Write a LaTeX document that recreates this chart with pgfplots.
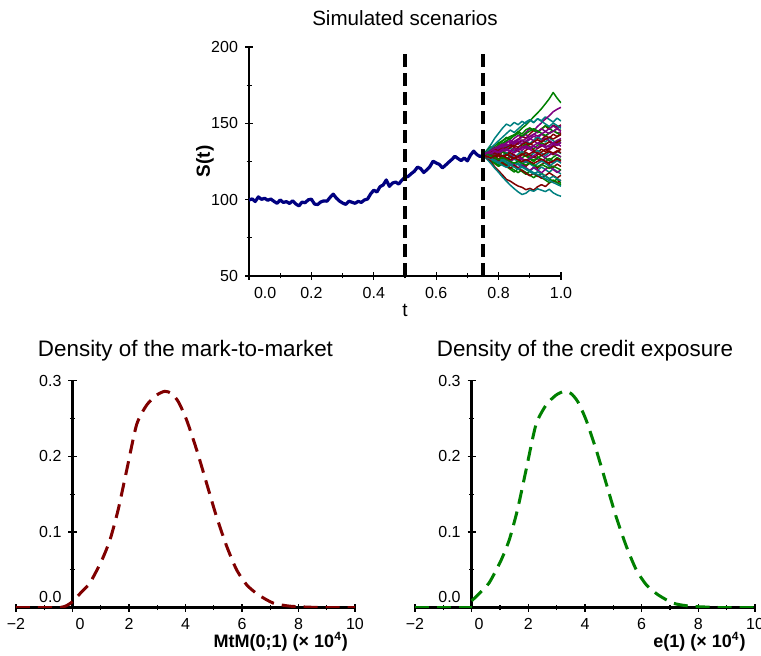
\documentclass[border=0pt]{standalone}
\usepackage{fontspec}
\setmainfont{Liberation Sans}
\usepackage{pgfplots}
\pgfplotsset{compat=1.18}
\definecolor{cnavy}{RGB}{0,0,128}
\definecolor{cmaroon}{RGB}{128,0,0}
\definecolor{cgreen}{RGB}{0,128,0}
\definecolor{cpurple}{RGB}{128,0,128}
\definecolor{cteal}{RGB}{0,128,128}
\pgfplotsset{
  common/.style={
    scale only axis, anchor=south west,
    axis line style={line width=1.2pt,-},
    tick style={line width=0.6pt,black},
    major tick length=4pt, minor tick length=2.5pt, tick align=center,
    /pgf/number format/assume math mode=true,
    ticklabel style={font=\fontsize{8}{9}\selectfont},
    every axis title/.style={anchor=center,font=\fontsize{11.2}{13}\selectfont},
  },
  onedec/.style={/pgf/number format/fixed, /pgf/number format/fixed zerofill, /pgf/number format/precision=1},
  sg/.style={cgreen, line width=0.75pt, line join=round},
  sp/.style={cpurple, line width=0.75pt, line join=round},
  sm/.style={cmaroon, line width=0.75pt, line join=round},
  st/.style={cteal, line width=0.75pt, line join=round},
}
\begin{document}
\begin{tikzpicture}
\path[use as bounding box] (0,0) rectangle (380.5pt,328pt);
% ---------------- top ----------------
\begin{axis}[common,
  at={(124.5pt,190pt)}, width=156pt, height=114.5pt,
  xmin=0, xmax=1, ymin=50, ymax=200,
  axis x line*=bottom, axis y line*=left,
  xtick={0.2,0.4,0.6,0.8,1.0}, minor xtick={0.1,0.3,0.5,0.7,0.9},
  xticklabel style={onedec},
  extra x ticks={0}, extra x tick labels={0.0},
  extra x tick style={xticklabel style={anchor=north west, xshift=-1pt}},
  ytick={50,100,150,200}, minor ytick={75,125,175},
  title={Simulated scenarios},
  title style={at={(axis description cs:0.5,1.1266)}, font=\fontsize{10.3}{12}\selectfont},
  xlabel={t}, ylabel={\textbf{S(t)}},
  every axis x label/.style={at={(axis description cs:0.5,-0.1485)}, anchor=center, font=\fontsize{9.5}{11}\selectfont},
  every axis y label/.style={at={(axis description cs:-0.141,0.5)}, rotate=90, anchor=center, font=\fontsize{9.5}{11}\selectfont},
]
\addplot[cnavy, line width=1.6pt, line join=round] coordinates {
(0,99.7)(0.01,100.5)(0.02,98.8)(0.03,101.8)(0.04,100.2)(0.05,100.9)(0.06,99.6)(0.07,100.4)(0.08,98.9)(0.09,97.6)
(0.10,99.8)(0.11,98.2)(0.12,98.7)(0.13,97.5)(0.14,99.3)(0.15,97.2)(0.16,95.9)(0.17,98.4)(0.18,98.0)(0.19,99.9)
(0.20,100.3)(0.21,97.1)(0.22,96.8)(0.23,98.5)(0.24,99.2)(0.25,99.0)(0.26,101.5)(0.27,103.6)(0.28,101.0)(0.29,99.1)
(0.30,97.8)(0.31,96.9)(0.32,99.0)(0.33,98.3)(0.34,97.6)(0.35,98.9)(0.36,98.2)(0.37,99.8)(0.38,100.4)(0.39,103.8)
(0.40,106.2)(0.41,105.0)(0.42,108.5)(0.43,109.6)(0.44,112.9)(0.45,108.7)(0.46,110.9)(0.47,111.5)(0.48,110.2)(0.49,112.8)
(0.50,114.6)(0.51,115.2)(0.52,117.0)(0.53,118.6)(0.54,121.3)(0.55,120.4)(0.56,117.8)(0.57,119.5)(0.58,121.7)(0.59,125.2)
(0.60,124.0)(0.61,123.1)(0.62,120.8)(0.63,122.6)(0.64,124.5)(0.65,126.3)(0.66,128.4)(0.67,126.9)(0.68,125.6)(0.69,127.3)
(0.70,125.4)(0.71,129.2)(0.72,131.8)(0.73,129.6)(0.74,128.3)(0.75,129.0)};
% scenarios
\addplot[sg] coordinates {(.75,129)(.7625,131)(.775,133.5)(.7875,135)(.8,137.2)(.8125,138.6)(.825,140.1)(.8375,141.4)(.85,142.5)(.8625,144.2)(.875,146.8)(.8875,148.9)(.9,151.5)(.9125,154.3)(.925,156.8)(.9375,159.6)(.95,162.8)(.9625,166.1)(.975,170.2)(.9875,166.5)(1,163.4)};
\addplot[st] coordinates {(.75,129)(.7625,132.5)(.775,136)(.7875,140.2)(.8,143.5)(.8125,146.8)(.825,149.5)(.8375,148.2)(.85,150.6)(.8625,149.1)(.875,151.3)(.8875,149.8)(.9,152.1)(.9125,150.4)(.925,153)(.9375,151.7)(.95,154.2)(.9625,152.5)(.975,150.8)(.9875,153.4)(1,151.5)};
\addplot[sp] coordinates {(.75,129)(.7625,130.2)(.775,132.5)(.7875,131.8)(.8,134.6)(.8125,136)(.825,138.4)(.8375,137.5)(.85,140.2)(.8625,142)(.875,141.3)(.8875,144)(.9,146.5)(.9125,145.2)(.925,148)(.9375,150.3)(.95,152.8)(.9625,155)(.975,157.6)(.9875,159.2)(1,160.5)};
\addplot[sm] coordinates {(.75,129)(.7625,127.5)(.775,130.4)(.7875,132.6)(.8,131.2)(.8125,134)(.825,136.5)(.8375,135.2)(.85,137.8)(.8625,139.6)(.875,141.5)(.8875,140.2)(.9,143)(.9125,145.4)(.925,144)(.9375,146.5)(.95,148.2)(.9625,146)(.975,148.8)(.9875,147.5)(1,149)};
\addplot[sg] coordinates {(.75,129)(.7625,132)(.775,134.6)(.7875,133)(.8,136.2)(.8125,138.5)(.825,140.8)(.8375,139.6)(.85,142.3)(.8625,144.6)(.875,143)(.8875,145.8)(.9,147)(.9125,145.5)(.925,143.8)(.9375,146.2)(.95,148.5)(.9625,147)(.975,144.6)(.9875,146.8)(1,145.2)};
\addplot[sp] coordinates {(.75,129)(.7625,128.2)(.775,130.5)(.7875,129.4)(.8,132)(.8125,134.3)(.825,133.1)(.8375,135.6)(.85,137.5)(.8625,136.2)(.875,138.8)(.8875,137.4)(.9,139.5)(.9125,141.6)(.925,140.3)(.9375,142.8)(.95,141.5)(.9625,143.7)(.975,145.2)(.9875,143.6)(1,144.4)};
\addplot[sm] coordinates {(.75,129)(.7625,130.6)(.775,129.2)(.7875,131.8)(.8,133.5)(.8125,132.1)(.825,134.6)(.8375,136.2)(.85,135)(.8625,137.3)(.875,139.1)(.8875,137.6)(.9,135.9)(.9125,138.4)(.925,140.6)(.9375,139.2)(.95,141.8)(.9625,140.4)(.975,142.9)(.9875,141.3)(1,143.5)};
\addplot[st] coordinates {(.75,129)(.7625,127.8)(.775,129.5)(.7875,131.6)(.8,130.2)(.8125,132.9)(.825,135.1)(.8375,133.6)(.85,131.8)(.8625,134.3)(.875,136.5)(.8875,138.2)(.9,136.7)(.9125,139)(.925,141.2)(.9375,139.4)(.95,137.8)(.9625,140.3)(.975,138.6)(.9875,136.9)(1,139.1)};
\addplot[sg] coordinates {(.75,129)(.7625,130.4)(.775,128.7)(.7875,130.9)(.8,129.3)(.8125,131.7)(.825,133.2)(.8375,131.5)(.85,133.9)(.8625,132.2)(.875,134.8)(.8875,136.4)(.9,134.7)(.9125,133.1)(.925,135.6)(.9375,137.3)(.95,135.9)(.9625,138.2)(.975,136.5)(.9875,138.9)(1,137.2)};
\addplot[sp] coordinates {(.75,129)(.7625,127.6)(.775,129.8)(.7875,128.1)(.8,130.5)(.8125,132.3)(.825,130.7)(.8375,129.1)(.85,131.4)(.8625,133.8)(.875,132.2)(.8875,134.5)(.9,133)(.9125,131.2)(.925,133.6)(.9375,135.8)(.95,134.1)(.9625,132.5)(.975,134.9)(.9875,136.6)(1,135)};
\addplot[sm] coordinates {(.75,129)(.7625,130.8)(.775,132.4)(.7875,130.6)(.8,129)(.8125,131.3)(.825,129.6)(.8375,131.9)(.85,133.6)(.8625,131.8)(.875,130.1)(.8875,132.4)(.9,134.2)(.9125,132.5)(.925,130.8)(.9375,133.1)(.95,131.4)(.9625,133.7)(.975,135.4)(.9875,133.6)(1,132.8)};
\addplot[st] coordinates {(.75,129)(.7625,128.1)(.775,126.7)(.7875,128.5)(.8,130.3)(.8125,128.6)(.825,130.9)(.8375,129.2)(.85,127.5)(.8625,129.8)(.875,131.6)(.8875,129.9)(.9,128.3)(.9125,130.5)(.925,132.2)(.9375,130.6)(.95,128.9)(.9625,131.1)(.975,129.4)(.9875,131.7)(1,130.2)};
\addplot[sg] coordinates {(.75,129)(.7625,127.4)(.775,125.9)(.7875,127.6)(.8,126.1)(.8125,124.5)(.825,126.8)(.8375,128.5)(.85,126.9)(.8625,125.2)(.875,127.4)(.8875,129.1)(.9,127.5)(.9125,125.8)(.925,128.1)(.9375,126.4)(.95,124.7)(.9625,127)(.975,125.3)(.9875,127.6)(1,126.1)};
\addplot[sp] coordinates {(.75,129)(.7625,130.3)(.775,128.5)(.7875,126.8)(.8,128.9)(.8125,127.2)(.825,125.6)(.8375,127.7)(.85,129.4)(.8625,127.8)(.875,126.1)(.8875,124.4)(.9,126.6)(.9125,128.3)(.925,126.6)(.9375,124.9)(.95,127.2)(.9625,125.5)(.975,123.8)(.9875,125.9)(1,124.3)};
\addplot[sm] coordinates {(.75,129)(.7625,127.7)(.775,126.2)(.7875,124.6)(.8,126.5)(.8125,128.1)(.825,126.3)(.8375,124.7)(.85,123)(.8625,125.2)(.875,123.5)(.8875,121.8)(.9,124.1)(.9125,122.4)(.925,120.6)(.9375,122.9)(.95,124.6)(.9625,122.8)(.975,121.1)(.9875,123.3)(1,121.7)};
\addplot[st] coordinates {(.75,129)(.7625,130.1)(.775,128.4)(.7875,126.6)(.8,124.9)(.8125,126.8)(.825,125.1)(.8375,123.3)(.85,121.6)(.8625,123.8)(.875,122.1)(.8875,120.3)(.9,118.6)(.9125,120.9)(.925,119.2)(.9375,121.4)(.95,119.7)(.9625,117.9)(.975,120.2)(.9875,118.5)(1,116.8)};
\addplot[sg] coordinates {(.75,129)(.7625,127.2)(.775,125.3)(.7875,123.6)(.8,121.8)(.8125,123.5)(.825,121.7)(.8375,119.9)(.85,118.1)(.8625,120.2)(.875,118.4)(.8875,116.6)(.9,118.7)(.9125,116.9)(.925,115.1)(.9375,117.3)(.95,115.5)(.9625,113.7)(.975,111.9)(.9875,113.4)(1,110.6)};
\addplot[sp] coordinates {(.75,129)(.7625,128.4)(.775,126.5)(.7875,128.2)(.8,126.3)(.8125,124.4)(.825,122.6)(.8375,124.5)(.85,122.7)(.8625,120.8)(.875,122.9)(.8875,121)(.9,119.1)(.9125,121.3)(.925,119.4)(.9375,117.6)(.95,119.8)(.9625,121.6)(.975,119.7)(.9875,117.8)(1,119.5)};
\addplot[sm] coordinates {(.75,129)(.7625,127)(.775,124.8)(.7875,121.5)(.8,118.9)(.8125,116.2)(.825,113.3)(.8375,112.1)(.85,110.4)(.8625,108.9)(.875,108.1)(.8875,106.5)(.9,107.4)(.9125,106.2)(.925,108.5)(.9375,109.8)(.95,108.6)(.9625,110.9)(.975,112.4)(.9875,111.1)(1,112.8)};
\addplot[st] coordinates {(.75,129)(.7625,126.5)(.775,123.8)(.7875,120.6)(.8,117.9)(.8125,114.8)(.825,112.1)(.8375,109.5)(.85,107.2)(.8625,105.1)(.875,103.4)(.8875,104.2)(.9,106.3)(.9125,105.5)(.925,107.1)(.9375,106.2)(.95,105.3)(.9625,106.8)(.975,104.5)(.9875,103.1)(1,102.2)};
\addplot[sg] coordinates {(.75,129)(.7625,131.2)(.775,129.5)(.7875,127.8)(.8,129.6)(.8125,131.4)(.825,129.7)(.8375,128)(.85,126.2)(.8625,128.4)(.875,130.2)(.8875,128.5)(.9,126.7)(.9125,125)(.925,127.2)(.9375,129)(.95,127.3)(.9625,125.5)(.975,127.8)(.9875,129.5)(1,127.9)};
\addplot[sp] coordinates {(.75,129)(.7625,130.9)(.775,132.7)(.7875,134.5)(.8,132.8)(.8125,134.6)(.825,136.4)(.8375,134.7)(.85,136.5)(.8625,138.3)(.875,136.6)(.8875,138.4)(.9,140.2)(.9125,138.5)(.925,136.8)(.9375,138.6)(.95,140.4)(.9625,138.7)(.975,136.9)(.9875,138.7)(1,140.1)};
\addplot[sm] coordinates {(.75,129)(.7625,130.5)(.775,128.8)(.7875,127.1)(.8,128.9)(.8125,127.2)(.825,129)(.8375,130.8)(.85,129.1)(.8625,127.4)(.875,129.2)(.8875,131)(.9,129.3)(.9125,127.6)(.925,129.4)(.9375,131.2)(.95,133)(.9625,131.3)(.975,129.6)(.9875,131.4)(1,133.1)};
\addplot[st] coordinates {(.75,129)(.7625,128.3)(.775,126.6)(.7875,124.9)(.8,126.7)(.8125,124.8)(.825,123.1)(.8375,125)(.85,126.8)(.8625,125.1)(.875,123.4)(.8875,125.2)(.9,123.5)(.9125,121.8)(.925,123.6)(.9375,125.4)(.95,123.7)(.9625,122)(.975,123.8)(.9875,125.6)(1,123.9)};
\addplot[sg] coordinates {(.75,129)(.7625,127.9)(.775,126.1)(.7875,124.4)(.8,122.7)(.8125,124.5)(.825,122.8)(.8375,121.1)(.85,119.4)(.8625,117.7)(.875,119.5)(.8875,117.8)(.9,116.1)(.9125,114.4)(.925,116.2)(.9375,114.5)(.95,112.8)(.9625,111.1)(.975,112.9)(.9875,111.2)(1,109.5)};
\addplot[sp] coordinates {(.75,129)(.7625,130.7)(.775,132.5)(.7875,131.8)(.8,133.6)(.8125,135.4)(.825,137.2)(.8375,139)(.85,137.3)(.8625,139.1)(.875,140.9)(.8875,142.7)(.9,141)(.9125,142.8)(.925,144.6)(.9375,146.4)(.95,144.7)(.9625,146.5)(.975,148.3)(.9875,146.6)(1,148.4)};
\addplot[sm] coordinates {(.75,129)(.7625,127.3)(.775,125.6)(.7875,127.4)(.8,125.7)(.8125,124)(.825,122.3)(.8375,120.6)(.85,122.4)(.8625,120.7)(.875,119)(.8875,117.3)(.9,115.6)(.9125,117.4)(.925,115.7)(.9375,114)(.95,115.8)(.9625,117.6)(.975,115.9)(.9875,114.2)(1,116)};
\addplot[st] coordinates {(.75,129)(.7625,131.4)(.775,133.8)(.7875,136.2)(.8,138.6)(.8125,140.9)(.825,143.3)(.8375,145.6)(.85,144)(.8625,146.3)(.875,148.6)(.8875,150.9)(.9,152.4)(.9125,150.7)(.925,153)(.9375,151.3)(.95,149.6)(.9625,147.9)(.975,150.2)(.9875,148.5)(1,146.8)};
\addplot[sg] coordinates {(.75,129)(.7625,130.6)(.775,132.2)(.7875,133.8)(.8,135.4)(.8125,137)(.825,138.6)(.8375,140.2)(.85,141.8)(.8625,143.4)(.875,141.7)(.8875,143.3)(.9,144.9)(.9125,146.5)(.925,145)(.9375,143.5)(.95,142)(.9625,143.6)(.975,145.2)(.9875,143.7)(1,142.2)};
\addplot[sp] coordinates {(.75,129)(.7625,127.6)(.775,129.2)(.7875,127.8)(.8,126.4)(.8125,128)(.825,126.6)(.8375,125.2)(.85,126.8)(.8625,128.4)(.875,127)(.8875,125.6)(.9,127.2)(.9125,128.8)(.925,130.4)(.9375,129)(.95,127.6)(.9625,129.2)(.975,130.8)(.9875,129.4)(1,128)};
\addplot[sm] coordinates {(.75,129)(.7625,130.4)(.775,131.8)(.7875,133.2)(.8,131.6)(.8125,133)(.825,134.4)(.8375,135.8)(.85,134.2)(.8625,132.6)(.875,134)(.8875,135.4)(.9,136.8)(.9125,135.2)(.925,133.6)(.9375,135)(.95,136.4)(.9625,137.8)(.975,136.2)(.9875,137.6)(1,139)};
\addplot[st] coordinates {(.75,129)(.7625,127.7)(.775,126.4)(.7875,125.1)(.8,123.8)(.8125,122.5)(.825,121.2)(.8375,122.7)(.85,124.2)(.8625,122.9)(.875,121.6)(.8875,120.3)(.9,119)(.9125,117.7)(.925,116.4)(.9375,115.1)(.95,113.8)(.9625,112.5)(.975,111.2)(.9875,110)(1,108.8)};
\addplot[sm] coordinates {(.75,129)(.7625,130.2)(.775,131.5)(.7875,130.1)(.8,132.3)(.8125,133.7)(.825,132.4)(.8375,134.1)(.85,135.6)(.8625,134.2)(.875,136)(.8875,137.5)(.9,136.1)(.9125,137.9)(.925,139.2)(.9375,137.8)(.95,139.5)(.9625,141)(.975,139.7)(.9875,141.2)(1,142.6)};
\addplot[sp] coordinates {(.75,129)(.7625,128.6)(.775,130.1)(.7875,131.7)(.8,130.3)(.8125,131.9)(.825,133.4)(.8375,132)(.85,130.6)(.8625,132.2)(.875,133.8)(.8875,135.3)(.9,133.9)(.9125,135.5)(.925,137)(.9375,135.6)(.95,134.2)(.9625,135.8)(.975,137.3)(.9875,135.9)(1,137.5)};
\addplot[sm] coordinates {(.75,129)(.7625,127.9)(.775,129.3)(.7875,128)(.8,126.7)(.8125,128.2)(.825,129.6)(.8375,128.3)(.85,127)(.8625,128.5)(.875,129.9)(.8875,128.6)(.9,130.1)(.9125,131.5)(.925,130.2)(.9375,128.9)(.95,130.4)(.9625,131.8)(.975,130.5)(.9875,132)(1,130.7)};
\addplot[sg] coordinates {(.75,129)(.7625,130.1)(.775,128.8)(.7875,127.5)(.8,126.2)(.8125,127.7)(.825,126.4)(.8375,125.1)(.85,123.8)(.8625,125.3)(.875,124)(.8875,122.7)(.9,124.2)(.9125,122.9)(.925,121.6)(.9375,123.1)(.95,121.8)(.9625,120.5)(.975,122)(.9875,120.7)(1,119.4)};
\addplot[sp] coordinates {(.75,129)(.7625,130.5)(.775,132)(.7875,133.5)(.8,135)(.8125,136.5)(.825,135.2)(.8375,136.7)(.85,138.2)(.8625,139.7)(.875,138.4)(.8875,139.9)(.9,141.4)(.9125,142.9)(.925,141.6)(.9375,143.1)(.95,144.6)(.9625,143.3)(.975,144.8)(.9875,146.3)(1,145)};
\addplot[st] coordinates {(.75,129)(.7625,128.8)(.775,127.3)(.7875,125.8)(.8,124.3)(.8125,125.8)(.825,124.3)(.8375,122.8)(.85,121.3)(.8625,119.8)(.875,121.3)(.8875,119.8)(.9,118.3)(.9125,116.8)(.925,118.3)(.9375,116.8)(.95,115.3)(.9625,113.8)(.975,115.3)(.9875,113.8)(1,112.3)};
\addplot[sm] coordinates {(.75,129)(.7625,128.5)(.775,127.2)(.7875,128.6)(.8,130)(.8125,128.7)(.825,127.4)(.8375,126.1)(.85,127.5)(.8625,126.2)(.875,124.9)(.8875,126.3)(.9,125)(.9125,123.7)(.925,125.1)(.9375,126.5)(.95,125.2)(.9625,123.9)(.975,125.3)(.9875,126.7)(1,125.4)};
\addplot[sp] coordinates {(.75,129)(.7625,131)(.775,130.2)(.7875,132.1)(.8,131.3)(.8125,133.2)(.825,132.4)(.8375,131.6)(.85,133.5)(.8625,132.7)(.875,134.6)(.8875,133.8)(.9,133)(.9125,134.9)(.925,134.1)(.9375,136)(.95,135.2)(.9625,134.4)(.975,136.3)(.9875,135.5)(1,137.4)};
% vertical dashed lines
\addplot[black, line width=1.6pt, dash pattern=on 6.5pt off 3pt] coordinates {(0.5,50)(0.5,197)};
\addplot[black, line width=1.6pt, dash pattern=on 6.5pt off 3pt] coordinates {(0.75,50)(0.75,197)};
\end{axis}
% ---------------- bottom left ----------------
\begin{axis}[common,
  at={(8pt,24.15pt)}, width=169.5pt, height=113.5pt,
  xmin=-2, xmax=10, ymin=0, ymax=0.3,
  axis lines*=middle,
  hide obscured x ticks=false, hide obscured y ticks=false,
  xtick={-2,2,4,6,8,10}, xticklabels={−2,2,4,6,8,10}, minor xtick={-1,1,3,5,7,9},
  extra x ticks={0}, extra x tick labels={0},
  extra x tick style={xticklabel style={xshift=3.75pt}},
  ytick={0.1,0.2,0.3}, minor ytick={0.05,0.15,0.25},
  yticklabel style={onedec},
  extra y ticks={0}, extra y tick labels={0.0},
  extra y tick style={yticklabel style={yshift=5.3pt}},
  title={Density of the mark-to-market},
  title style={at={(axis description cs:0.5,1.1308)}},
  xlabel={\textbf{MtM(0;1) (× 10\textsuperscript{4})}},
  every axis x label/.style={at={(axis description cs:1,-0.1498)}, anchor=east, font=\fontsize{9}{11}\selectfont},
]
\addplot[cmaroon, line width=1.5pt, dash pattern=on 7pt off 4pt, smooth, tension=0.4] coordinates {
(-2,0)(-1,0)(-0.5,0)(-0.25,0.002)(0,0.008)(0.3,0.02)(0.62,0.033)(1.03,0.062)(1.33,0.09)(1.62,0.13)(1.92,0.182)
(2.27,0.242)(2.63,0.268)(2.98,0.281)(3.27,0.286)(3.51,0.283)(3.75,0.272)(4.04,0.248)(4.4,0.208)(4.75,0.164)
(5.1,0.12)(5.46,0.081)(5.81,0.05)(6.17,0.03)(6.58,0.017)(7.11,0.006)(7.7,0.002)(8.5,0.0005)(9,0)(10,0)};
\end{axis}
% ---------------- bottom right ----------------
\begin{axis}[common,
  at={(207.5pt,24.15pt)}, width=170pt, height=113.5pt,
  xmin=-2, xmax=10, ymin=0, ymax=0.3,
  axis lines*=middle,
  hide obscured x ticks=false, hide obscured y ticks=false,
  xtick={-2,2,4,6,8,10}, xticklabels={−2,2,4,6,8,10}, minor xtick={-1,1,3,5,7,9},
  extra x ticks={0}, extra x tick labels={0},
  extra x tick style={xticklabel style={xshift=3.75pt}},
  ytick={0.1,0.2,0.3}, minor ytick={0.05,0.15,0.25},
  yticklabel style={onedec},
  extra y ticks={0}, extra y tick labels={0.0},
  extra y tick style={yticklabel style={yshift=5.3pt}},
  title={Density of the credit exposure},
  title style={at={(axis description cs:0.5,1.1308)}},
  xlabel={\textbf{e(1) (× 10\textsuperscript{4})}},
  every axis x label/.style={at={(axis description cs:0.993,-0.1498)}, anchor=east, font=\fontsize{9}{11}\selectfont},
]
\addplot[cgreen, line width=1.5pt, dash pattern=on 7pt off 4pt] coordinates {
(-2,0)(-1,0)(0,0)};
\addplot[cgreen, line width=1.5pt, dash pattern=on 7pt off 4pt, smooth, tension=0.4] coordinates {
(0,0.009)(0.3,0.02)(0.62,0.033)(1.03,0.062)(1.33,0.09)(1.62,0.13)(1.92,0.182)
(2.27,0.242)(2.63,0.268)(2.98,0.281)(3.27,0.286)(3.51,0.283)(3.75,0.272)(4.04,0.248)(4.4,0.208)(4.75,0.164)
(5.1,0.12)(5.46,0.081)(5.81,0.05)(6.17,0.03)(6.58,0.017)(7.11,0.006)(7.7,0.002)(8.5,0.0005)(9,0)(10,0)};
\end{axis}
\end{tikzpicture}
\end{document}
